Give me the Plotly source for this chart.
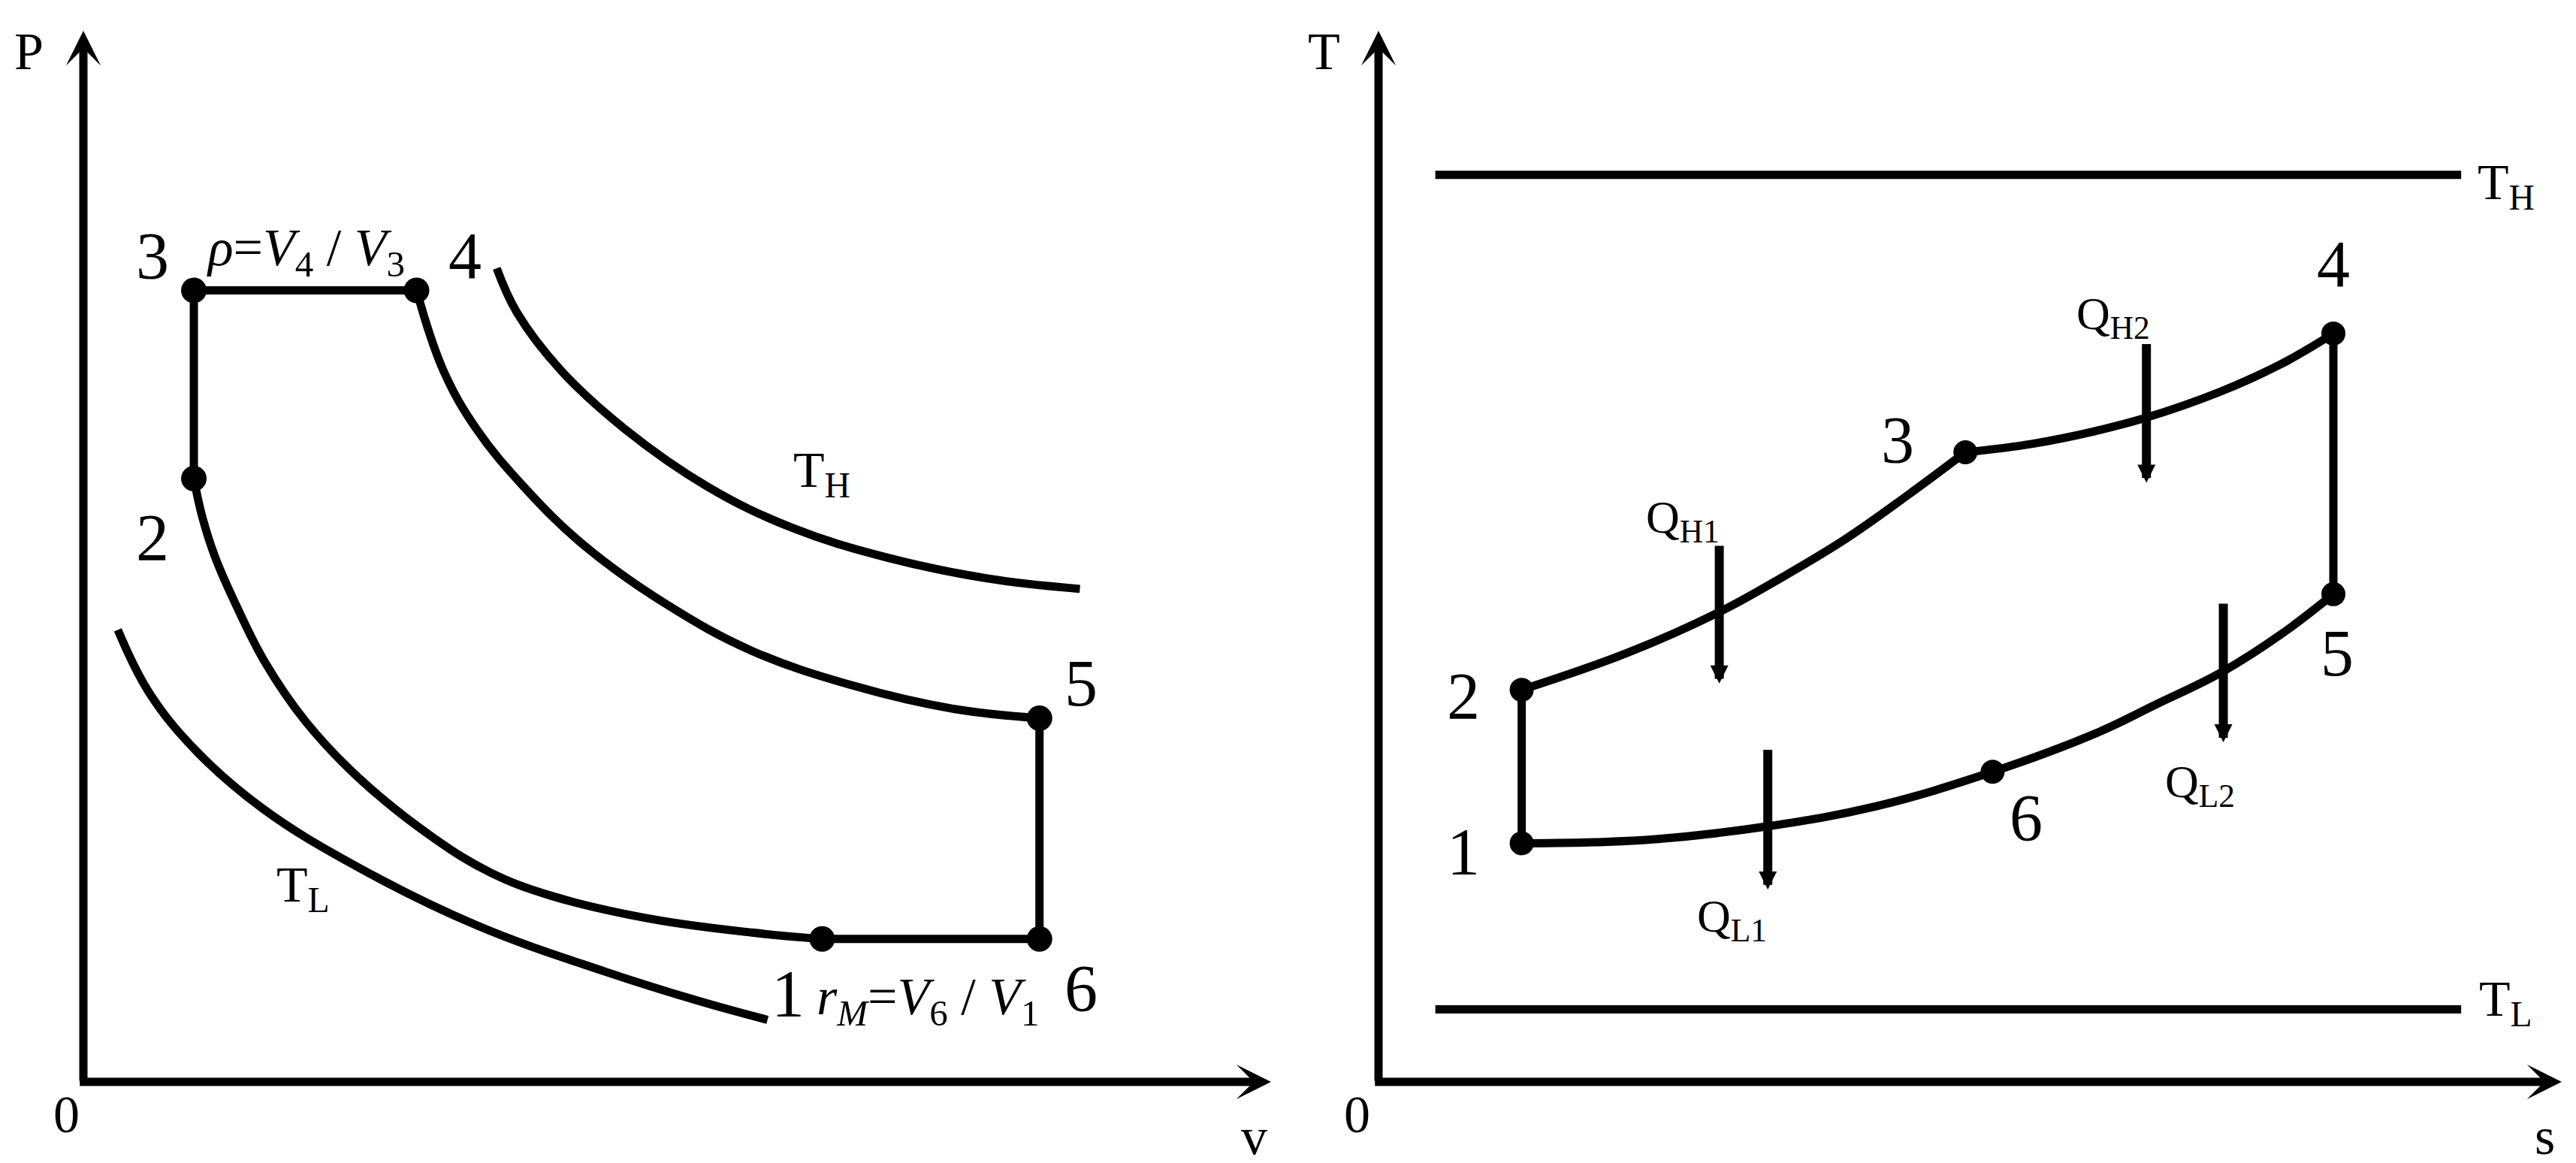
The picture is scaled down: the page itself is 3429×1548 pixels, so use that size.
import plotly.graph_objects as go

W, H = 3429, 1548
FONT = "Liberation Serif"

# ---------------- P-v diagram (left) ----------------
pv_state = ["1", "2", "3", "4", "5", "6"]
pv_v = [62.2, 9.3, 9.3, 28.05, 80.5, 80.5]
pv_p = [13.6, 57.4, 75.3, 75.3, 34.6, 13.6]

# compression 1-2 (read from 2 towards 1)
comp_v = [9.3, 10.0, 11.1, 12.8, 15.3, 18.7, 23.3, 29.5, 34.3, 39.4, 47.8, 56.3, 62.2]
comp_p = [57.4, 53.8, 49.9, 45.5, 39.9, 34.3, 28.8, 23.2, 19.9, 17.7, 15.5, 14.2, 13.6]

# expansion 4-5
exp_v = [28.05, 30.3, 33.1, 37.1, 42.2, 49.0, 56.3, 64.8, 73.2, 80.5]
exp_p = [75.3, 67.7, 62.1, 56.6, 51.0, 45.5, 41.0, 37.7, 35.5, 34.6]

# reservoir isotherms
th_v = [34.8, 36.5, 40.2, 45.6, 52.6, 59.7, 67.6, 76.1, 83.9]
th_p = [77.4, 73.2, 67.7, 62.1, 56.6, 52.7, 49.9, 47.9, 46.9]
tl_v = [2.9, 5.5, 9.4, 15.1, 23.0, 33.1, 43.9, 51.8, 57.6]
tl_p = [43.0, 37.1, 31.6, 26.0, 20.5, 14.9, 10.5, 7.7, 5.9]

pv_label_v = [59.3, 5.8, 5.8, 32.1, 84.0, 84.0]
pv_label_p = [8.4, 51.8, 78.6, 78.6, 37.9, 8.9]

# ---------------- T-s diagram (right) ----------------
ts_state = ["1", "2", "3", "4", "5", "6"]
ts_s = [12.1, 12.1, 49.6, 80.7, 80.7, 51.9]
ts_t = [22.7, 37.3, 59.9, 71.2, 46.4, 29.5]

c23_s = [12.1, 21.0, 28.8, 34.1, 39.4, 44.7, 49.6]
c23_t = [37.3, 40.8, 44.7, 48.0, 51.6, 55.8, 59.9]
c34_s = [49.6, 55.2, 60.5, 64.9, 71.0, 76.3, 80.7]
c34_t = [59.9, 60.7, 61.9, 63.2, 65.6, 68.3, 71.2]
c165_s = [12.1, 18.3, 23.6, 32.8, 42.0, 51.9, 60.5, 65.7, 71.3, 76.3, 80.7]
c165_t = [22.7, 22.8, 23.1, 24.3, 26.2, 29.5, 33.1, 35.9, 39.0, 42.6, 46.4]

res_s = [4.8, 91.5]
t_high = 86.3
t_low = 6.9

ts_label_s = [7.2, 7.2, 43.9, 80.7, 81.0, 54.7]
ts_label_t = [21.9, 36.7, 61.1, 77.8, 40.8, 25.1]

q_names = ["Q<sub>H1</sub>", "Q<sub>H2</sub>", "Q<sub>L1</sub>", "Q<sub>L2</sub>"]
q_s = [28.8, 64.9, 32.9, 71.4]
q_top = [51.1, 70.3, 31.7, 45.6]
q_bottom = [37.9, 57.0, 18.3, 32.3]
q_label_s = [25.7, 62.1, 29.9, 69.4]
q_label_t = [53.4, 72.8, 15.5, 28.3]

# ---------------- figure ----------------
fig = go.Figure()
line = dict(color="black", width=11)


def curve(x, y, ax, shape="spline"):
    xa, ya = ("x", "y") if ax == 1 else ("x2", "y2")
    fig.add_trace(go.Scatter(x=x, y=y, mode="lines", xaxis=xa, yaxis=ya,
                             line=dict(line, shape=shape, smoothing=1.1),
                             hoverinfo="skip"))


# left panel
curve(comp_v, comp_p, 1)
curve(exp_v, exp_p, 1)
curve(th_v, th_p, 1)
curve(tl_v, tl_p, 1)
curve([pv_v[1], pv_v[2], pv_v[3]], [pv_p[1], pv_p[2], pv_p[3]], 1, "linear")
curve([pv_v[4], pv_v[5], pv_v[0]], [pv_p[4], pv_p[5], pv_p[0]], 1, "linear")
fig.add_trace(go.Scatter(x=pv_v, y=pv_p, mode="markers", xaxis="x", yaxis="y",
                         marker=dict(color="black", size=34)))

# right panel
curve(res_s, [t_high, t_high], 2, "linear")
curve(res_s, [t_low, t_low], 2, "linear")
curve(c23_s, c23_t, 2)
curve(c34_s, c34_t, 2)
curve(c165_s, c165_t, 2)
curve([ts_s[0], ts_s[1]], [ts_t[0], ts_t[1]], 2, "linear")
curve([ts_s[3], ts_s[4]], [ts_t[3], ts_t[4]], 2, "linear")
fig.add_trace(go.Scatter(x=ts_s, y=ts_t, mode="markers", xaxis="x2", yaxis="y2",
                         marker=dict(color="black", size=32)))

ann = []


def label(text, x, y, ax, size):
    xa, ya = ("x", "y") if ax == 1 else ("x2", "y2")
    ann.append(dict(text=text, x=x, y=y, xref=xa, yref=ya, showarrow=False,
                    xanchor="center", yanchor="middle",
                    font=dict(family=FONT, size=size, color="black")))


def arrow(x, y, x0, y0, ax, width, head, size):
    xa, ya = ("x", "y") if ax == 1 else ("x2", "y2")
    ann.append(dict(text="", x=x, y=y, ax=x0, ay=y0, xref=xa, yref=ya,
                    axref=xa, ayref=ya, showarrow=True, arrowhead=head,
                    arrowsize=size, arrowwidth=width, arrowcolor="black"))


# coordinate axes with arrow heads
for a in (1, 2):
    arrow(0, 100, 0, 0, a, 11, 3, 0.7)
    arrow(100, 0, -0.4, 0, a, 11, 3, 0.7)

label("P", -4.6, 98, 1, 70)
label("0", -1.4, -3.1, 1, 70)
label("v", 98.6, -5.2, 1, 70)
label("T", -4.6, 98, 2, 70)
label("0", -1.8, -3.1, 2, 70)
label("s", 98.6, -5.2, 2, 70)

for name, x, y in zip(pv_state, pv_label_v, pv_label_p):
    label(name, x, y, 1, 88)
for name, x, y in zip(ts_state, ts_label_s, ts_label_t):
    label(name, x, y, 2, 88)

label("<i>ρ</i>=<i>V</i><sub>4</sub> / <i>V</i><sub>3</sub>", 18.7, 79.0, 1, 70)
label("<i>r</i><sub><i>M</i></sub>=<i>V</i><sub>6</sub> / <i>V</i><sub>1</sub>", 71.1, 7.7, 1, 70)
label("T<sub>H</sub>", 62.2, 57.9, 1, 68)
label("T<sub>L</sub>", 18.5, 18.5, 1, 68)
label("T<sub>H</sub>", 95.3, 85.3, 2, 68)
label("T<sub>L</sub>", 95.3, 7.6, 2, 68)

for name, s, t0, t1, ls, lt in zip(q_names, q_s, q_top, q_bottom, q_label_s, q_label_t):
    arrow(s, t1, s, t0, 2, 12, 2, 0.4)
    label(name, ls, lt, 2, 62)


def domain(origin_px, px_per_unit, lo, hi, total, vertical=False):
    a = origin_px + lo * px_per_unit * (-1 if vertical else 1)
    b = origin_px + hi * px_per_unit * (-1 if vertical else 1)
    if vertical:
        return [(total - a) / total, (total - b) / total]
    return [a / total, b / total]


# pixel geometry of the two frames: origin and pixels per data unit
X1_RANGE, X2_RANGE, Y_RANGE = [-6.5, 103], [-8, 101.5], [-8, 102]
x1_dom = domain(103, 15.81, X1_RANGE[0], X1_RANGE[1], W)
x2_dom = domain(1827, 15.75, X2_RANGE[0], X2_RANGE[1], W)
y_dom = domain(1432, 13.99, Y_RANGE[0], Y_RANGE[1], H, vertical=True)

axis = dict(visible=False, fixedrange=True)
fig.update_layout(
    width=W, height=H,
    margin=dict(l=0, r=0, t=0, b=0),
    paper_bgcolor="white", plot_bgcolor="white",
    showlegend=False,
    xaxis=dict(axis, range=X1_RANGE, domain=x1_dom, anchor="y"),
    yaxis=dict(axis, range=Y_RANGE, domain=y_dom, anchor="x"),
    xaxis2=dict(axis, range=X2_RANGE, domain=x2_dom, anchor="y2"),
    yaxis2=dict(axis, range=Y_RANGE, domain=y_dom, anchor="x2"),
    annotations=ann,
)

fig.write_html("out.html")
